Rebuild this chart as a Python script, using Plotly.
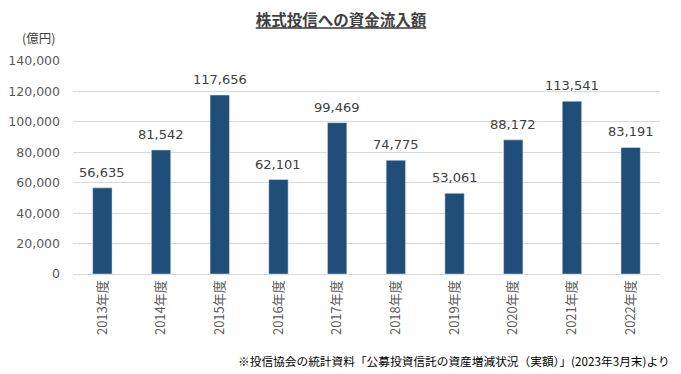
import plotly.graph_objects as go

years = ["2013年度", "2014年度", "2015年度", "2016年度", "2017年度",
         "2018年度", "2019年度", "2020年度", "2021年度", "2022年度"]
inflows = [56635, 81542, 117656, 62101, 99469, 74775, 53061, 88172, 113541, 83191]
y_ticks = [0, 20000, 40000, 60000, 80000, 100000, 120000, 140000]

jp_font = "Noto Sans CJK JP, Noto Sans, sans-serif"
num_font = "DejaVu Sans, Verdana, sans-serif"
gray = "#595959"

fig = go.Figure(go.Bar(
    x=years, y=inflows,
    marker_color="#1F4E79",
    cliponaxis=False,
    width=0.33,
))

value_labels = [
    dict(x=yr, y=v, xref="x", yref="y", text=f"{v:,}", showarrow=False,
         xanchor="center", yanchor="bottom", yshift=6,
         font=dict(size=13, color="#404040", family=num_font))
    for yr, v in zip(years, inflows)
]

fig.update_layout(
    width=673, height=366,
    paper_bgcolor="white", plot_bgcolor="white",
    margin=dict(l=65, r=21, t=53, b=100),
    font=dict(family=jp_font, color=gray),
    showlegend=False,
    title=dict(
        text="<b><u>株式投信への資金流入額</u></b>",
        x=0.4948, xanchor="center", y=0.965, yanchor="middle",
        font=dict(size=15.5, color="#404040", family=jp_font),
    ),
    xaxis=dict(
        tickangle=-90, tickfont=dict(size=13, color=gray, family=jp_font),
        showline=True, linecolor="#D9D9D9", linewidth=1,
        ticks="", showgrid=False, automargin=False,
    ),
    yaxis=dict(
        range=[0, 140000], tickvals=y_ticks,
        tickformat=",", tickfont=dict(size=12.5, color=gray, family=num_font),
        showgrid=True, gridcolor="#D9D9D9", gridwidth=1,
        zeroline=False, ticks="", ticklabelstandoff=12, automargin=False,
    ),
    annotations=value_labels + [
        dict(text="(億円)", xref="paper", yref="paper", x=-0.09, y=1.108,
             xanchor="left", yanchor="middle", showarrow=False,
             font=dict(size=12.5, color="#404040", family=jp_font)),
        dict(text="※投信協会の統計資料「公募投資信託の資産増減状況（実額）」(2023年3月末)より",
             xref="paper", yref="paper", x=1.0204, y=-0.404,
             xanchor="right", yanchor="middle", showarrow=False,
             font=dict(size=11.7, color="#000000", family=jp_font)),
    ],
)

fig.write_html("out.html")
